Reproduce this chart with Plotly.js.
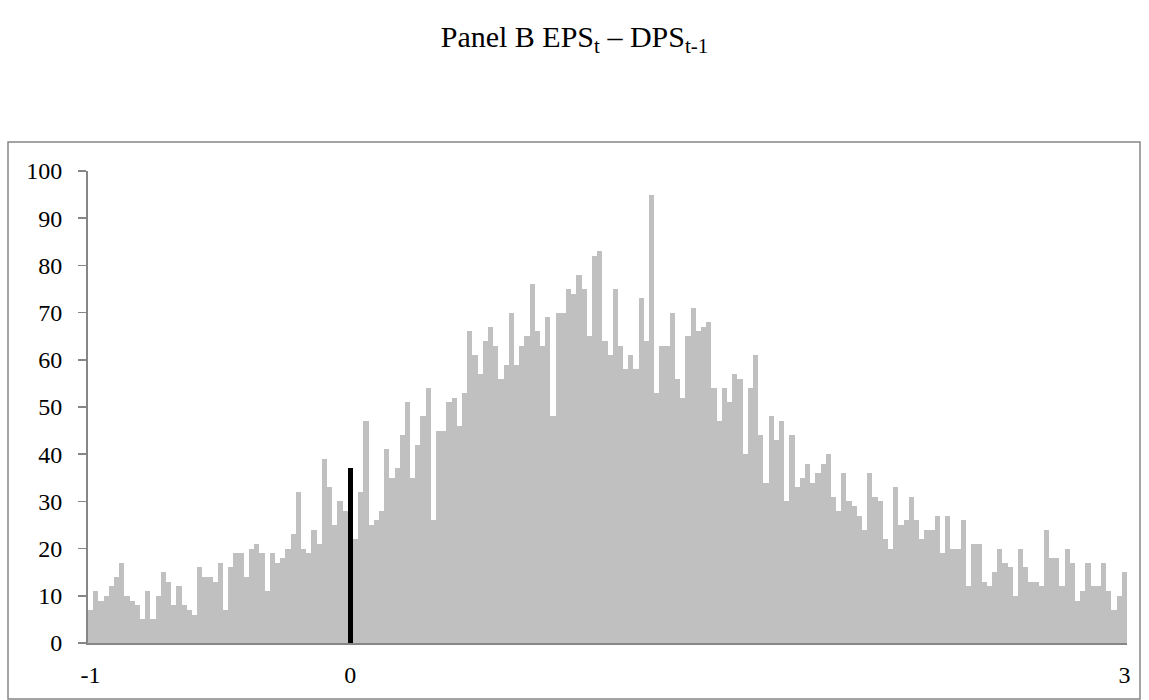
<!DOCTYPE html>
<html>
<head>
<meta charset="utf-8">
<script src="https://cdn.plot.ly/plotly-3.0.1.min.js"></script>
<style>html,body{margin:0;padding:0;background:#fff;}#chart{width:1149px;height:700px;}</style>
</head>
<body>
<div id="chart"></div>
<script>
// Bin starts from -1 in steps of 0.02 (200 bins); counts
const binStart = -1;
const binWidth = 0.02;
const counts = [
  7, 11, 9, 10, 12, 14, 17, 10, 9, 8,
  5, 11, 5, 10, 15, 13, 8, 12, 8, 7,
  6, 16, 14, 14, 13, 17, 7, 16, 19, 19,
  14, 20, 21, 19, 11, 19, 17, 18, 20, 23,
  32, 20, 19, 24, 21, 39, 33, 25, 30, 28,
  37, 22, 32, 47, 25, 26, 28, 41, 35, 37,
  44, 51, 35, 42, 48, 54, 26, 45, 45, 51,
  52, 46, 53, 66, 61, 57, 64, 67, 63, 56,
  59, 70, 59, 63, 65, 76, 66, 63, 69, 48,
  70, 70, 75, 74, 78, 75, 65, 82, 83, 64,
  61, 75, 63, 58, 61, 58, 73, 64, 95, 53,
  63, 63, 70, 56, 52, 65, 71, 66, 67, 68,
  54, 47, 54, 51, 57, 56, 40, 54, 61, 44,
  34, 48, 43, 47, 30, 44, 33, 35, 38, 34,
  36, 38, 40, 31, 28, 36, 30, 29, 27, 24,
  36, 31, 30, 22, 20, 33, 25, 26, 31, 26,
  22, 24, 24, 27, 19, 27, 20, 20, 26, 12,
  21, 21, 13, 12, 15, 20, 17, 16, 10, 20,
  16, 13, 13, 12, 24, 18, 18, 12, 20, 17,
  9, 11, 17, 12, 12, 17, 11, 7, 10, 15
];
const highlightBin = 0;          // bin drawn in black
const xTickVals = [-1, 0, 2.98];
const xTickText = ['-1', '0', '3'];
const yTickVals = [0, 10, 20, 30, 40, 50, 60, 70, 80, 90, 100];

const xs = counts.map((_, i) => +(binStart + i * binWidth).toFixed(2));
const colors = xs.map(v => Math.abs(v - highlightBin) < 1e-9 ? '#000000' : '#c0c0c0');

const W = 1149, H = 700;
const m = {l: 88, r: 22, t: 171, b: 57};
const pw = W - m.l - m.r, ph = H - m.t - m.b;
const px = v => (v - m.l) / pw;
const py = v => (H - m.b - v) / ph;
const serif = '"Liberation Serif", "Times New Roman", serif';

const trace = {
  type: 'bar',
  x: xs,
  y: counts,
  width: binWidth,
  marker: {color: colors, line: {width: 0}},
  hoverinfo: 'x+y'
};

const layout = {
  width: W, height: H,
  margin: m,
  paper_bgcolor: '#ffffff',
  plot_bgcolor: '#ffffff',
  showlegend: false,
  bargap: 0,
  font: {family: serif, size: 24, color: '#000'},
  title: {
    text: 'Panel B EPS<sub>t</sub> – DPS<sub>t-1</sub>',
    font: {family: serif, size: 30, color: '#000'},
    x: 0.5, xanchor: 'center',
    y: 1 - 36 / H, yanchor: 'middle', yref: 'container'
  },
  xaxis: {
    range: [binStart - binWidth / 2, binStart + (counts.length - 0.5) * binWidth],
    tickmode: 'array', tickvals: xTickVals, ticktext: xTickText,
    showgrid: false, zeroline: false,
    showline: true, linecolor: '#868686', linewidth: 2,
    ticks: '', ticklabelstandoff: 9,
    tickfont: {size: 24}
  },
  yaxis: {
    range: [0, 100],
    tickmode: 'array', tickvals: yTickVals,
    showgrid: false, zeroline: false,
    showline: true, linecolor: '#868686', linewidth: 2,
    ticks: 'outside', ticklen: 8, tickcolor: '#868686', tickwidth: 1.5,
    ticklabelstandoff: 11,
    tickfont: {size: 24}
  },
  shapes: [{
    type: 'rect', xref: 'paper', yref: 'paper',
    x0: px(8), x1: px(1140), y0: py(699), y1: py(142),
    line: {color: '#868686', width: 1.5}, fillcolor: 'rgba(0,0,0,0)', layer: 'below'
  }]
};

Plotly.newPlot('chart', [trace], layout, {displayModeBar: false, staticPlot: true});
</script>
</body>
</html>
